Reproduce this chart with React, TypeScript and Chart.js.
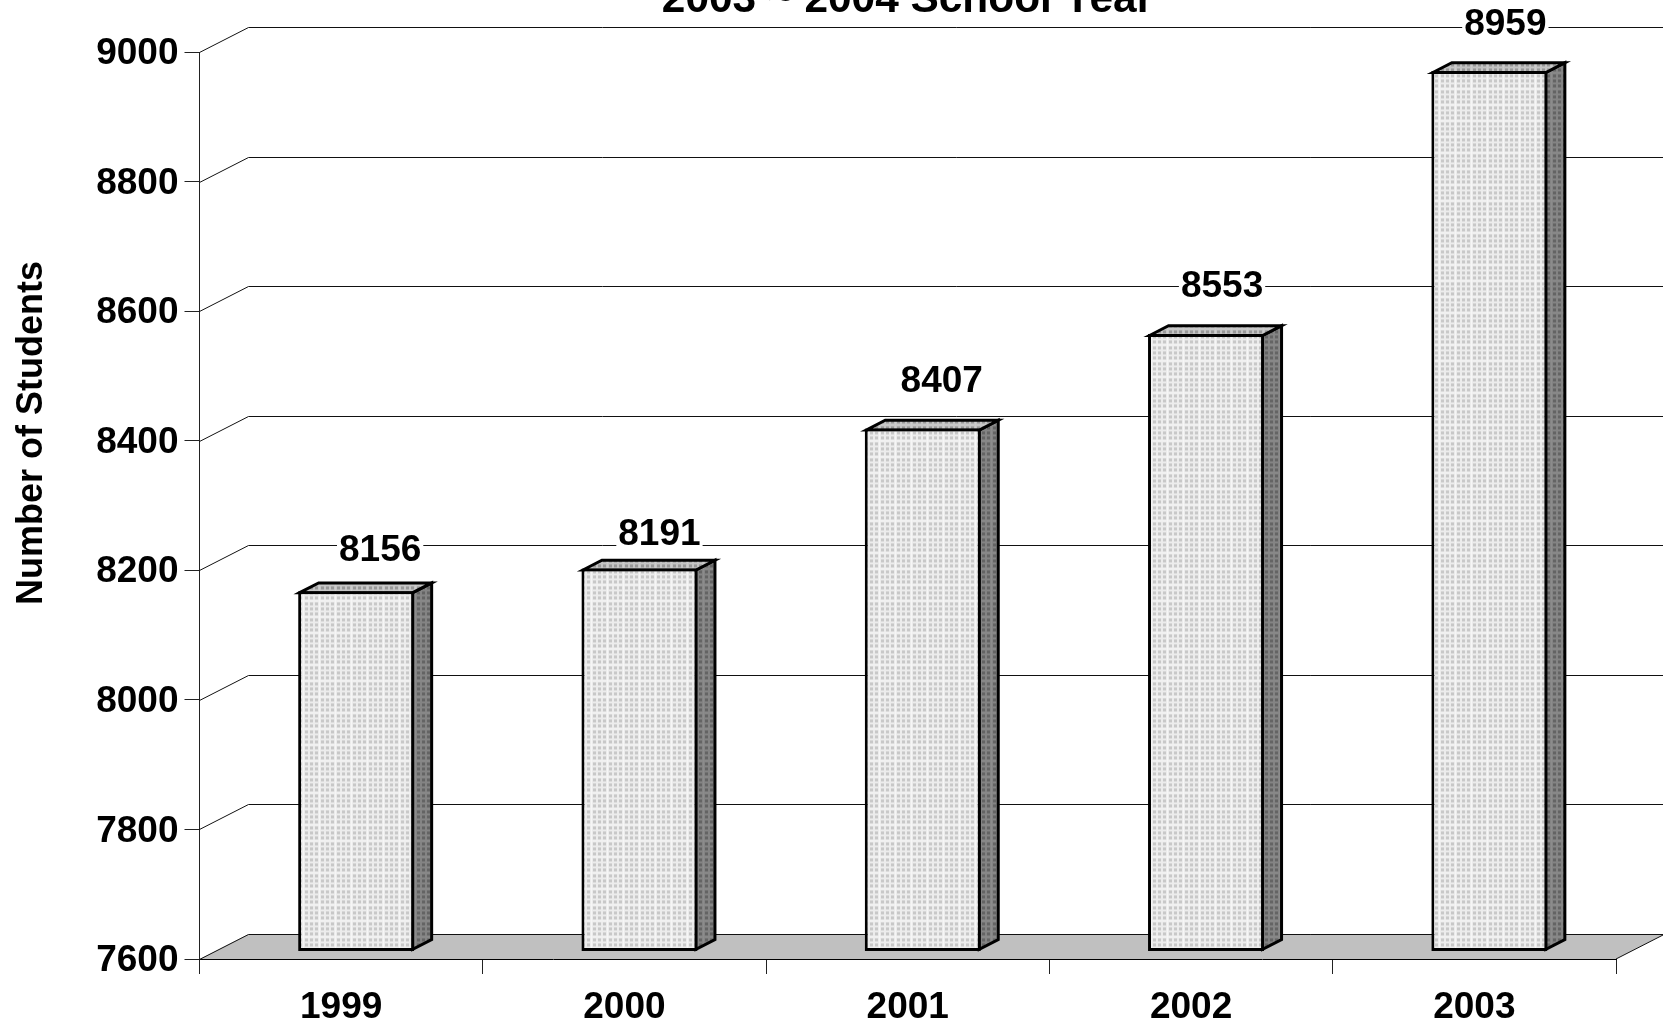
import React, { useEffect, useRef } from "react";
import { Chart, registerables } from "chart.js";

Chart.register(...registerables);

const years = ["1999", "2000", "2001", "2002", "2003"];
const students = [8156, 8191, 8407, 8553, 8959];
const chartTitle = "2003 ~ 2004 School Year";
const yAxisTitle = "Number of Students";
const axisFloor = 7600;
const axisCeiling = 9000;
const axisStep = 200;

const W = 1663;
const H = 1026;
const FONT = '"Liberation Sans", Arial, sans-serif';

function dotPattern(base: string, dot: string, seam: string) {
  const size = 16;
  const c = document.createElement("canvas");
  c.width = size;
  c.height = size;
  const g = c.getContext("2d")!;
  g.fillStyle = base;
  g.fillRect(0, 0, size, size);
  g.fillStyle = seam;
  g.fillRect(0, 0, size, 1);
  g.fillRect(0, 0, 1, size);
  g.fillStyle = dot;
  [2, 7, 12].forEach((px) => {
    [2, 7, 12].forEach((py) => g.fillRect(px, py, 3, 3));
  });
  return g.createPattern(c, "repeat")!;
}

const wall = { dx: 49, dy: -25 };
const shift = { dx: 15, dy: -7.6 };
const depth = { dx: 19, dy: -9.8 };
const labelOffset = [
  { x: 24, y: -41 },
  { x: 20, y: -35 },
  { x: 19, y: -47.5 },
  { x: 16, y: -48.5 },
  { x: 16, y: -47.5 },
];

const scene = {
  id: "scene",
  beforeDatasetsDraw(chart: any) {
    const { ctx, chartArea: a, scales } = chart;
    const y = scales.y;
    const zero = y.getPixelForValue(y.min);
    ctx.save();
    ctx.fillStyle = "#c0c0c0";
    ctx.beginPath();
    ctx.moveTo(a.left, zero);
    ctx.lineTo(a.right, zero);
    ctx.lineTo(a.right + wall.dx, zero + wall.dy);
    ctx.lineTo(a.left + wall.dx, zero + wall.dy);
    ctx.closePath();
    ctx.fill();
    ctx.strokeStyle = "#111";
    ctx.lineWidth = 1;
    y.ticks.forEach((t: any) => {
      const p = Math.round(y.getPixelForValue(t.value)) + 0.5;
      ctx.beginPath();
      ctx.moveTo(a.left, p);
      ctx.lineTo(a.left + wall.dx, p + wall.dy);
      ctx.lineTo(W + 10, p + wall.dy);
      ctx.stroke();
    });
    ctx.beginPath();
    ctx.moveTo(a.right, zero);
    ctx.lineTo(a.right + wall.dx, zero + wall.dy);
    ctx.stroke();
    const side = dotPattern("#848484", "#646464", "#8c8c8c");
    const top = dotPattern("#c4c4c4", "#989898", "#cccccc");
    ctx.translate(shift.dx, shift.dy);
    ctx.lineWidth = 3;
    ctx.lineJoin = "miter";
    ctx.strokeStyle = "#000";
    chart.getDatasetMeta(0).data.forEach((bar: any) => {
      const l = bar.x - bar.width / 2 + 1.5;
      const r = bar.x + bar.width / 2 - 1.5;
      const t = bar.y + 1.5;
      const b = bar.base - 1.5;
      ctx.fillStyle = side;
      ctx.beginPath();
      ctx.moveTo(r, t);
      ctx.lineTo(r + depth.dx, t + depth.dy);
      ctx.lineTo(r + depth.dx, b + depth.dy);
      ctx.lineTo(r, b);
      ctx.closePath();
      ctx.fill();
      ctx.stroke();
      ctx.fillStyle = top;
      ctx.beginPath();
      ctx.moveTo(l, t);
      ctx.lineTo(l + depth.dx, t + depth.dy);
      ctx.lineTo(r + depth.dx, t + depth.dy);
      ctx.lineTo(r, t);
      ctx.closePath();
      ctx.fill();
      ctx.stroke();
    });
    ctx.restore();
    ctx.save();
    ctx.translate(shift.dx, shift.dy);
  },
  afterDatasetsDraw(chart: any) {
    const { ctx } = chart;
    ctx.restore();
    ctx.save();
    ctx.font = `bold 37px ${FONT}`;
    ctx.textAlign = "center";
    ctx.textBaseline = "middle";
    chart.getDatasetMeta(0).data.forEach((bar: any, i: number) => {
      const text = String(students[i]);
      const x = bar.x + shift.dx + labelOffset[i].x;
      const yy = bar.y + shift.dy + labelOffset[i].y;
      const w = ctx.measureText(text).width;
      ctx.fillStyle = "#fff";
      ctx.fillRect(x - w / 2 - 2, yy - 15, w + 4, 30);
      ctx.fillStyle = "#000";
      ctx.fillText(text, x, yy + 1);
    });
    ctx.textBaseline = "alphabetic";
    ctx.font = `bold 42.4px ${FONT}`;
    ctx.fillText(chartTitle, 907.5, 12);
    ctx.translate(44, 433);
    ctx.rotate(-Math.PI / 2);
    ctx.font = `bold 36px ${FONT}`;
    ctx.fillStyle = "#000";
    ctx.fillText(yAxisTitle, 0, -2);
    ctx.restore();
  },
};

export default function App() {
  const ref = useRef<HTMLCanvasElement>(null);
  useEffect(() => {
    const front = dotPattern("#ececec", "#c8c8c8", "#f6f6f6");
    const chart = new Chart(ref.current!, {
      type: "bar",
      data: {
        labels: years,
        datasets: [
          {
            label: yAxisTitle,
            data: students,
            base: axisFloor,
            backgroundColor: front,
            borderColor: "#000",
            borderWidth: 3,
            borderSkipped: false,
            categoryPercentage: 1,
            barPercentage: 0.4095,
            clip: false,
          } as any,
        ],
      },
      plugins: [scene],
      options: {
        animation: false,
        responsive: false,
        devicePixelRatio: 1,
        layout: { padding: { left: 0, right: 47, top: 52, bottom: 0 } },
        plugins: { legend: { display: false }, tooltip: { enabled: false }, title: { display: false } },
        scales: {
          x: {
            afterFit: (s: any) => { s.height = 67; },
            grid: { offset: true, drawOnChartArea: false, tickLength: 15, color: "#222" },
            border: { color: "#000", width: 1 },
            ticks: { color: "#000", padding: 12, maxRotation: 0, font: { family: FONT, size: 37, weight: "bold" } },
          },
          y: {
            min: axisFloor,
            max: axisCeiling,
            afterFit: (s: any) => { s.width = 199.5; },
            grid: { drawOnChartArea: false, tickLength: 15, color: "#222" },
            border: { color: "#222", width: 1 },
            ticks: {
              stepSize: axisStep,
              color: "#000",
              padding: 6,
              labelOffset: 2,
              callback: (v: any) => String(v),
              font: { family: FONT, size: 37, weight: "bold" },
            },
          },
        },
      },
    });
    return () => chart.destroy();
  }, []);
  return (
    <div style={{ position: "absolute", left: 0, top: 0, width: W, height: H, background: "#fff", overflow: "hidden" }}>
      <canvas ref={ref} width={W} height={H} style={{ display: "block", width: W, height: H }} />
    </div>
  );
}
